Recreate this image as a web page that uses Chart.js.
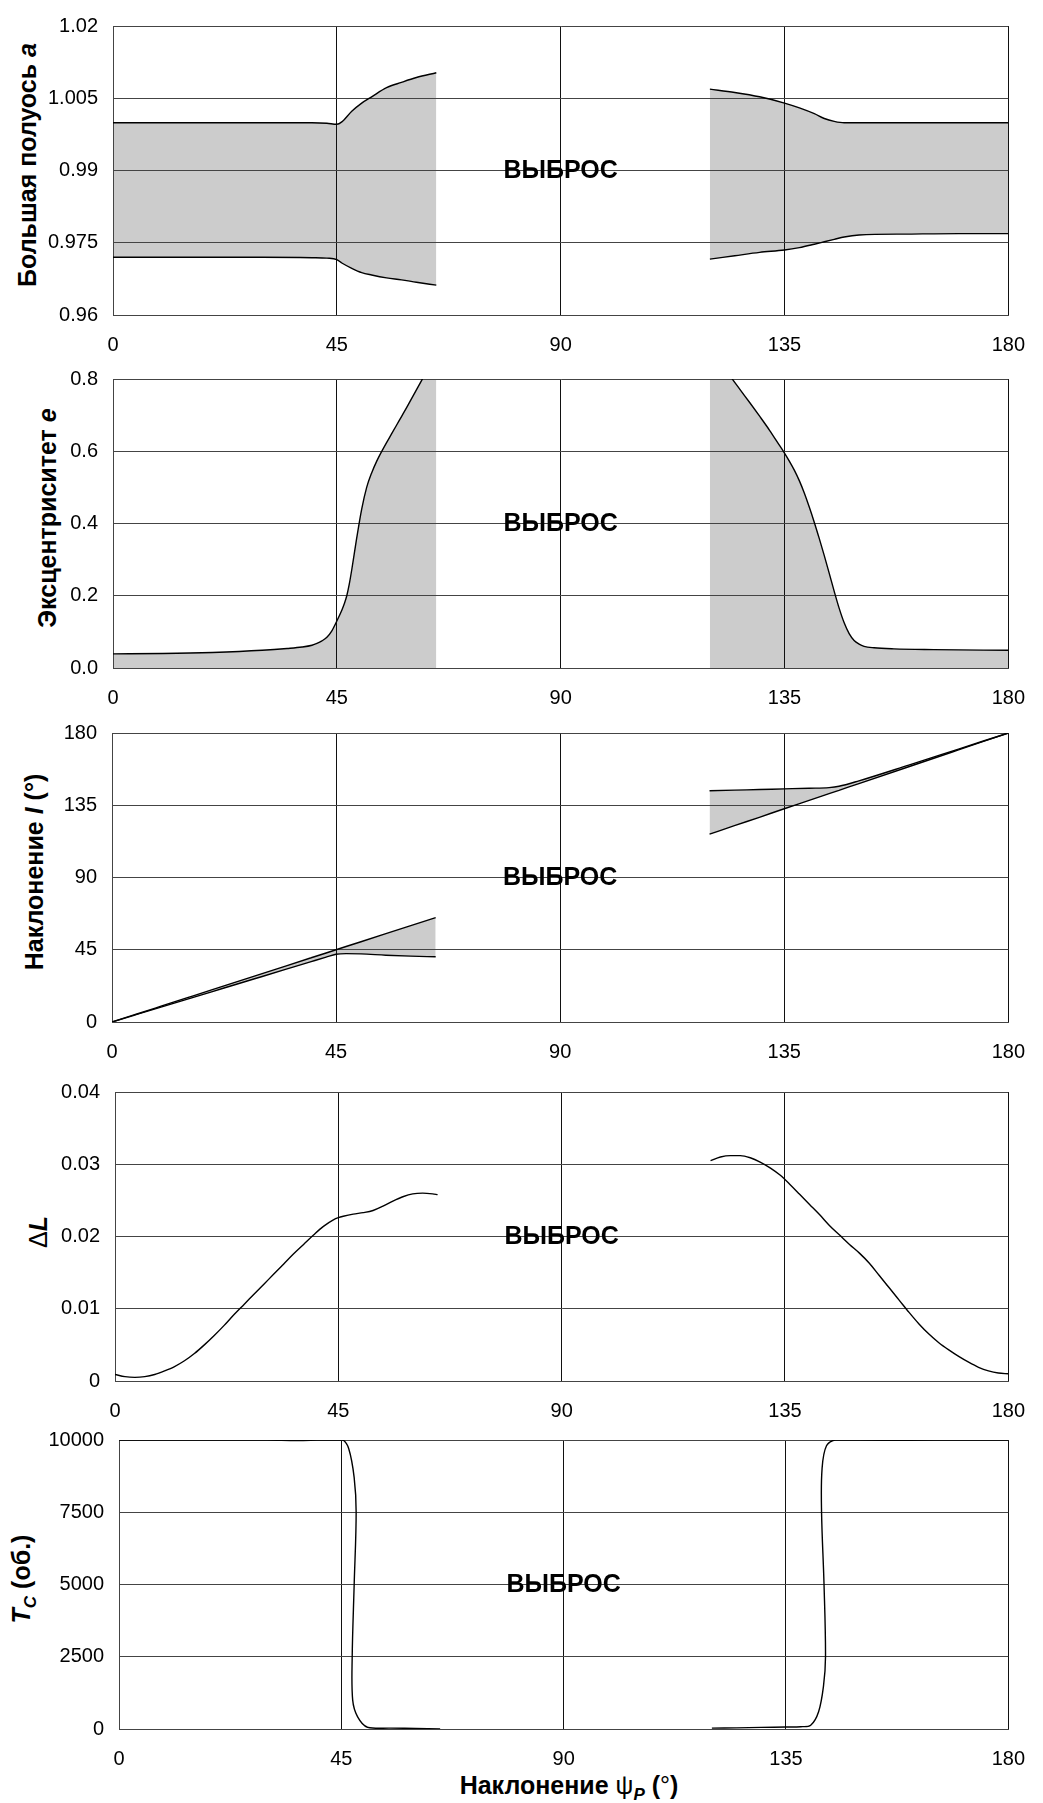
<!DOCTYPE html>
<html>
<head>
<meta charset="utf-8">
<script src="https://cdn.jsdelivr.net/npm/chart.js@4.4.1/dist/chart.umd.min.js"></script>
<style>
  html, body { margin:0; padding:0; background:#fff; }
  body { width:1043px; height:1803px; position:relative; overflow:hidden;
         font-family:"Liberation Sans", Arial, sans-serif; color:#000; }
  canvas { position:absolute; left:0; }
  .yt { position:absolute; font-weight:bold; font-size:25px; white-space:nowrap; line-height:1;
        transform:translate(-50%,-50%) rotate(-90deg); }
  .xt { position:absolute; font-weight:bold; font-size:25px; white-space:nowrap; line-height:1;
        transform:translate(-50%,-50%); }
  .n { font-weight:normal; }
  sub { font-size:17px; line-height:0; }
</style>
</head>
<body>
<div class="yt" style="left:27px;top:165px">Большая полуось <i>a</i></div>
<div class="yt" style="left:47px;top:518px">Эксцентриситет <i>e</i></div>
<div class="yt" style="left:34px;top:872px">Наклонение <i>I</i> (°)</div>
<div class="yt" style="left:38px;top:1232px"><span class="n">Δ</span><i>L</i></div>
<div class="yt" style="left:21px;top:1579px"><i>T</i><sub><i>C</i></sub> (об.)</div>
<div class="xt" style="left:569px;top:1785px">Наклонение <span class="n">ψ</span><sub><i>P</i></sub> (<span class="n">°</span>)</div>

<script>
// ---------------- DATA ----------------
const psiTicks = [0, 45, 90, 135, 180];
const psiTickLabels = ['0', '45', '90', '135', '180'];
const outlierText = 'ВЫБРОС';
const outlierPsi = 90;

// Panel 1: semi-major axis a (envelope)
const aTicks = [0.96, 0.975, 0.99, 1.005, 1.02];
const aTickLabels = ['0.96', '0.975', '0.99', '1.005', '1.02'];
const aPsiL   = [0, 10, 20, 30, 40, 43, 45, 46, 48, 50, 52, 55, 58, 61, 65];
const aUpperL = [0.9999, 0.9999, 0.9999, 0.9999, 0.9999, 0.9998, 0.9996, 1.0001, 1.0023, 1.0040, 1.0053, 1.0072, 1.0083, 1.0093, 1.0103];
const aLowerL = [0.9720, 0.9720, 0.9720, 0.9720, 0.9719, 0.9718, 0.9715, 0.9708, 0.9697, 0.9688, 0.9683, 0.9677, 0.9673, 0.9668, 0.9662];
const aPsiR   = [120, 125, 130, 135, 138, 141, 143, 145, 147, 150, 160, 170, 180];
const aUpperR = [1.0069, 1.0062, 1.0053, 1.0040, 1.0030, 1.0018, 1.0008, 1.0002, 0.9999, 0.9999, 0.9999, 0.9999, 0.9999];
const aLowerR = [0.9716, 0.9723, 0.9730, 0.9735, 0.9740, 0.9747, 0.9752, 0.9757, 0.9762, 0.9766, 0.9768, 0.9769, 0.9769];

// Panel 2: eccentricity e
const eTicks = [0, 0.2, 0.4, 0.6, 0.8];
const eTickLabels = ['0.0', '0.2', '0.4', '0.6', '0.8'];
const ePsiL = [0, 10, 20, 30, 35, 38, 40, 41, 42, 43, 44, 45, 46, 46.5, 47, 47.5, 48, 49, 50, 51, 52, 53, 54, 55, 56, 57, 58, 59, 60, 61, 62, 63, 64, 65];
const eL    = [0.039, 0.040, 0.043, 0.049, 0.054, 0.058, 0.063, 0.068, 0.075, 0.085, 0.103, 0.130, 0.160, 0.178, 0.200, 0.232, 0.272, 0.360, 0.440, 0.500, 0.540, 0.572, 0.599, 0.624, 0.648, 0.672, 0.696, 0.720, 0.745, 0.770, 0.795, 0.820, 0.845, 0.870];
const ePsiR = [120, 122, 124, 126, 128, 130, 132, 134, 135, 136, 137, 138, 139, 140, 141, 142, 143, 144, 145, 146, 147, 148, 149, 150, 151, 153, 157, 165, 180];
const eR    = [0.900, 0.855, 0.810, 0.772, 0.735, 0.697, 0.658, 0.616, 0.595, 0.572, 0.547, 0.518, 0.484, 0.445, 0.403, 0.358, 0.311, 0.262, 0.212, 0.165, 0.125, 0.095, 0.076, 0.066, 0.060, 0.056, 0.053, 0.051, 0.049];

// Panel 3: inclination I (envelope)
const iTicks = [0, 45, 90, 135, 180];
const iTickLabels = ['0', '45', '90', '135', '180'];
const iPsiL   = [0, 5, 10, 15, 20, 25, 30, 35, 40, 43, 45, 47, 50, 55, 60, 65];
const iUpperL = [0, 5, 10, 15, 20, 25, 30, 35, 40, 43, 45, 47, 50, 55, 60, 65];
const iLowerL = [0, 4.7, 9.4, 14.1, 18.8, 23.5, 28.2, 32.9, 37.6, 40.4, 42.2, 42.6, 42.4, 41.6, 41.0, 40.6];
const iPsiR   = [120, 125, 130, 135, 140, 144, 146, 150, 160, 170, 180];
const iUpperR = [144.0, 144.4, 144.8, 145.2, 145.6, 146.0, 146.8, 150.2, 160.0, 170.0, 180.0];
const iLowerR = [117.0, 122.3, 127.5, 132.8, 138.0, 142.2, 144.3, 148.5, 159.0, 169.5, 180.0];

// Panel 4: ΔL
const dTicks = [0, 0.01, 0.02, 0.03, 0.04];
const dTickLabels = ['0', '0.01', '0.02', '0.03', '0.04'];
const dPsiL = [0, 2, 4, 6, 8, 10, 12, 14, 16, 18, 20, 22, 24, 26, 28, 30, 32, 34, 36, 38, 40, 42, 44, 45, 46, 48, 50, 52, 54, 56, 58, 60, 62, 64, 65];
const dL    = [0.0009, 0.0006, 0.0005, 0.0006, 0.0009, 0.0014, 0.0020, 0.0028, 0.0038, 0.0050, 0.0063, 0.0077, 0.0092, 0.0106, 0.0120, 0.0134, 0.0148, 0.0162, 0.0176, 0.0189, 0.0202, 0.0214, 0.0223, 0.0226, 0.0228, 0.0231, 0.0233, 0.0236, 0.0242, 0.0249, 0.0255, 0.0259, 0.0260, 0.0259, 0.0258];
const dPsiR = [120, 122, 124, 126, 128, 130, 132, 134, 136, 138, 140, 142, 144, 146, 148, 150, 152, 154, 156, 158, 160, 162, 164, 166, 168, 170, 172, 174, 176, 178, 180];
const dR    = [0.0305, 0.0310, 0.0312, 0.0312, 0.0309, 0.0303, 0.0295, 0.0285, 0.0272, 0.0258, 0.0244, 0.0230, 0.0215, 0.0202, 0.0189, 0.0177, 0.0163, 0.0146, 0.0129, 0.0112, 0.0095, 0.0079, 0.0065, 0.0053, 0.0043, 0.0034, 0.0026, 0.0019, 0.0014, 0.0011, 0.0010];

// Panel 5: capture time Tc (revolutions)
const tTicks = [0, 2500, 5000, 7500, 10000];
const tTickLabels = ['0', '2500', '5000', '7500', '10000'];
const tPsiL = [0, 10, 20, 30, 36, 40, 43, 45.2, 46.5, 47.6, 48.0, 47.6, 47.2, 47.3, 48.3, 50.3, 55, 60, 65];
const tL    = [10000, 10000, 10000, 10000, 9985, 9995, 10005, 10010, 9700, 8700, 7500, 5000, 2500, 1000, 420, 60, 30, 20, 0];
const tPsiR = [120, 125, 130, 135, 138, 140, 141.6, 142.6, 143.0, 142.7, 142.2, 142.3, 143.2, 145.2, 150, 160, 170, 180];
const tR    = [30, 40, 55, 70, 80, 130, 600, 1500, 2500, 5000, 7500, 9000, 9800, 10010, 10000, 9990, 10000, 10000];

// ---------------- LAYOUT / STYLE ----------------
const FONT = '"Liberation Sans", Arial, sans-serif';
const FILL = '#cccccc';
const TICK_FONT = 20;
const panels = [
  { L:113, R:1013, T:15,   yMin:0.96, yMax:1.02, ticks:aTicks, labels:aTickLabels, mid:0.99 },
  { L:113, R:1013, T:368,  yMin:0,    yMax:0.8,  ticks:eTicks, labels:eTickLabels, mid:0.4 },
  { L:112, R:1012, T:722,  yMin:0,    yMax:180,  ticks:iTicks, labels:iTickLabels, mid:90 },
  { L:115, R:1016, T:1081, yMin:0,    yMax:0.04, ticks:dTicks, labels:dTickLabels, mid:0.02 },
  { L:119, R:1020, T:1429, yMin:0,    yMax:10000,ticks:tTicks, labels:tTickLabels, mid:5000 }
];

function xy(xs, ys) { return xs.map((x, i) => ({ x: x, y: ys[i] })); }

function line(xs, ys, extra) {
  return Object.assign({
    data: xy(xs, ys), borderColor:'#000', borderWidth:1.4, pointRadius:0,
    fill:false, cubicInterpolationMode:'monotone', backgroundColor:FILL
  }, extra || {});
}

const panelDatasets = [
  [ line(aPsiL, aUpperL, { fill:'+1' }), line(aPsiL, aLowerL),
    line(aPsiR, aUpperR, { fill:'+1' }), line(aPsiR, aLowerR) ],
  [ line(ePsiL, eL, { fill:'origin' }), line(ePsiR, eR, { fill:'origin' }) ],
  [ line(iPsiL, iUpperL, { fill:'+1' }), line(iPsiL, iLowerL),
    line(iPsiR, iUpperR, { fill:'+1' }), line(iPsiR, iLowerR) ],
  [ line(dPsiL, dL), line(dPsiR, dR) ],
  [ line(tPsiL, tL, { cubicInterpolationMode:'default', tension:0.35 }),
    line(tPsiR, tR, { cubicInterpolationMode:'default', tension:0.35 }) ]
];

const outlierLabel = {
  id: 'outlierLabel',
  afterDatasetsDraw(chart, args, opts) {
    const ctx = chart.ctx, x = chart.scales.x, y = chart.scales.y;
    ctx.save();
    ctx.font = 'bold 25px ' + FONT;
    ctx.fillStyle = '#000';
    ctx.textAlign = 'center';
    ctx.textBaseline = 'middle';
    ctx.fillText(opts.text, x.getPixelForValue(opts.x), y.getPixelForValue(opts.y) + 1);
    ctx.restore();
  }
};

const PAD_TOP = 16, PLOT_H = 300, X_AXIS_H = 45, W = 1043;

panels.forEach((p, k) => {
  const cv = document.createElement('canvas');
  cv.width = W; cv.height = PAD_TOP + PLOT_H + X_AXIS_H;
  cv.style.top = (p.T - PAD_TOP) + 'px';
  cv.style.width = W + 'px'; cv.style.height = cv.height + 'px';
  document.body.appendChild(cv);
  new Chart(cv, {
    type: 'line',
    data: { datasets: panelDatasets[k] },
    plugins: [outlierLabel],
    options: {
      responsive:false, animation:false, devicePixelRatio:1,
      layout: { padding: { top:PAD_TOP, right:W - p.R, left:0, bottom:0 } },
      plugins: {
        legend:{ display:false }, tooltip:{ enabled:false },
        filler:{ drawTime:'beforeDraw' },
        outlierLabel:{ text:outlierText, x:outlierPsi, y:p.mid }
      },
      scales: {
        x: {
          type:'linear', min:0, max:180,
          afterBuildTicks: s => { s.ticks = psiTicks.map(v => ({ value:v })); },
          afterFit: s => { s.height = X_AXIS_H; },
          ticks: { callback:(v, i) => psiTickLabels[i], padding:18, color:'#000',
                   font:{ size:TICK_FONT, family:FONT }, maxRotation:0, autoSkip:false },
          grid: { color:'#111', lineWidth:1, drawTicks:false },
          border: { color:'#444', width:1 }
        },
        y: {
          type:'linear', min:p.yMin, max:p.yMax,
          afterBuildTicks: s => { s.ticks = p.ticks.map(v => ({ value:v })); },
          afterFit: s => { s.width = p.L; },
          ticks: { callback:(v, i) => p.labels[i], padding:15, color:'#000',
                   font:{ size:TICK_FONT, family:FONT }, autoSkip:false },
          grid: { color:'#444', lineWidth:1, drawTicks:false },
          border: { color:'#444', width:1 }
        }
      }
    }
  });
});
</script>
</body>
</html>
